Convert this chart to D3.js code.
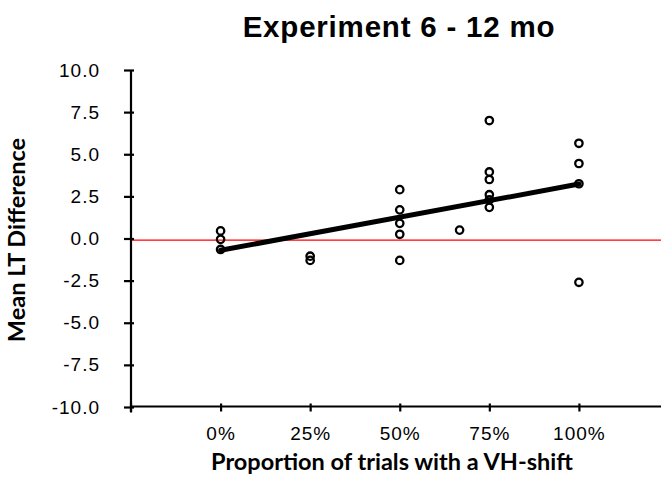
<!DOCTYPE html>
<html>
<head>
<meta charset="utf-8">
<script src="https://cdn.jsdelivr.net/npm/d3@7"></script>
<style>
  html, body { margin: 0; padding: 0; background: #fff; }
  svg { display: block; }
</style>
</head>
<body>
<svg id="chart" width="661" height="490"></svg>
<script>
// Proportion of VH-shift trials per participant group
const xTicks = [0, 0.25, 0.5, 0.75, 1];
const xTickLabels = ["0%", "25%", "50%", "75%", "100%"];
const yTicks = [-10, -7.5, -5, -2.5, 0, 2.5, 5, 7.5, 10];

// Individual participants: proportion and mean looking-time difference
const pointX = [0, 0, 0,
                0.25, 0.25,
                0.5, 0.5, 0.5, 0.5, 0.5,
                0.667,
                0.75, 0.75, 0.75, 0.75, 0.75, 0.75,
                1, 1, 1, 1];
const pointY = [0.45, -0.05, -0.65,
                -1.05, -1.3,
                2.9, 1.7, 0.9, 0.25, -1.3,
                0.5,
                7.0, 3.95, 3.5, 2.6, 2.3, 1.85,
                5.65, 4.45, 3.25, -2.6];

// Linear fit and reference level
const fitIntercept = -0.7;
const fitSlope = 3.93;
const referenceY = -0.1;

const svg = d3.select("#chart");

const x = d3.scaleLinear().domain([-0.25, 1.25]).range([131, 668.5]);
const y = d3.scaleLinear().domain([-10, 10]).range([407, 70]);

const tickFont = "Liberation Sans, Arial, sans-serif";
const fmt = d => d.toFixed(1);   // plain hyphen for negatives

// Reference line
svg.append("line")
  .attr("x1", x(-0.25)).attr("x2", 661)
  .attr("y1", y(referenceY)).attr("y2", y(referenceY))
  .attr("stroke", "#ff0000").attr("stroke-width", 1.2);

// Y axis
const yAxis = d3.axisLeft(y).tickValues(yTicks).tickSize(0).tickFormat(fmt);
const gy = svg.append("g").attr("transform", `translate(${x(-0.25)},0)`).call(yAxis);
gy.select(".domain").remove();
gy.append("line").attr("x1", 0).attr("x2", 0).attr("y1", y(10)).attr("y2", y(-10) + 5)
  .attr("stroke", "#000").attr("stroke-width", 2.2);
gy.selectAll(".tick").append("line")
  .attr("x1", -7).attr("x2", 3).attr("stroke", "#000").attr("stroke-width", 2.2);
gy.selectAll(".tick text")
  .attr("x", -31)
  .attr("font-family", tickFont)
  .attr("font-size", 19)
  .attr("letter-spacing", 1)
  .attr("fill", "#000");

// X axis
const xAxis = d3.axisBottom(x).tickValues(xTicks).tickSize(0)
  .tickFormat((d, i) => xTickLabels[i]);
const gx = svg.append("g").attr("transform", `translate(0,${y(-10) - 0.5})`).call(xAxis);
gx.select(".domain").remove();
gx.append("line").attr("x1", x(-0.25)).attr("x2", 661).attr("y1", 0).attr("y2", 0)
  .attr("stroke", "#000").attr("stroke-width", 2.2);
gx.selectAll(".tick").append("line")
  .attr("y1", -3).attr("y2", 5).attr("stroke", "#000").attr("stroke-width", 2.2);
gx.append("line").attr("x1", x(-0.25)).attr("x2", x(-0.25)).attr("y1", -4).attr("y2", 6)
  .attr("stroke", "#000").attr("stroke-width", 2.2);
gx.selectAll(".tick text")
  .attr("y", 20)
  .attr("font-family", tickFont)
  .attr("font-size", 19)
  .attr("letter-spacing", 1)
  .attr("fill", "#000");

// Trend line
svg.append("line")
  .attr("x1", x(0)).attr("y1", y(fitIntercept))
  .attr("x2", x(1)).attr("y2", y(fitIntercept + fitSlope))
  .attr("stroke", "#000").attr("stroke-width", 5).attr("stroke-linecap", "round");

// Participants
svg.append("g").selectAll("circle")
  .data(pointX.map((d, i) => [d, pointY[i]]))
  .join("circle")
  .attr("cx", d => x(d[0]))
  .attr("cy", d => y(d[1]))
  .attr("r", 3.7)
  .attr("fill", "none")
  .attr("stroke", "#000")
  .attr("stroke-width", 2.3);

// Title
svg.append("text")
  .attr("x", 399).attr("y", 37)
  .attr("text-anchor", "middle")
  .attr("font-family", tickFont)
  .attr("font-weight", "bold")
  .attr("font-size", 29.5)
  .attr("letter-spacing", 0.8)
  .text("Experiment 6 - 12 mo");

// Axis titles
svg.append("text")
  .attr("x", 392).attr("y", 470)
  .attr("text-anchor", "middle")
  .attr("font-family", "Lato, Open Sans, sans-serif")
  .attr("font-weight", "bold")
  .attr("font-size", 23.5)
  .text("Proportion of trials with a VH-shift");

svg.append("text")
  .attr("transform", "translate(25,240) rotate(-90)")
  .attr("text-anchor", "middle")
  .attr("font-family", "Lato, Open Sans, sans-serif")
  .attr("font-weight", "bold")
  .attr("font-size", 23.5)
  .text("Mean LT Difference");
</script>
</body>
</html>
